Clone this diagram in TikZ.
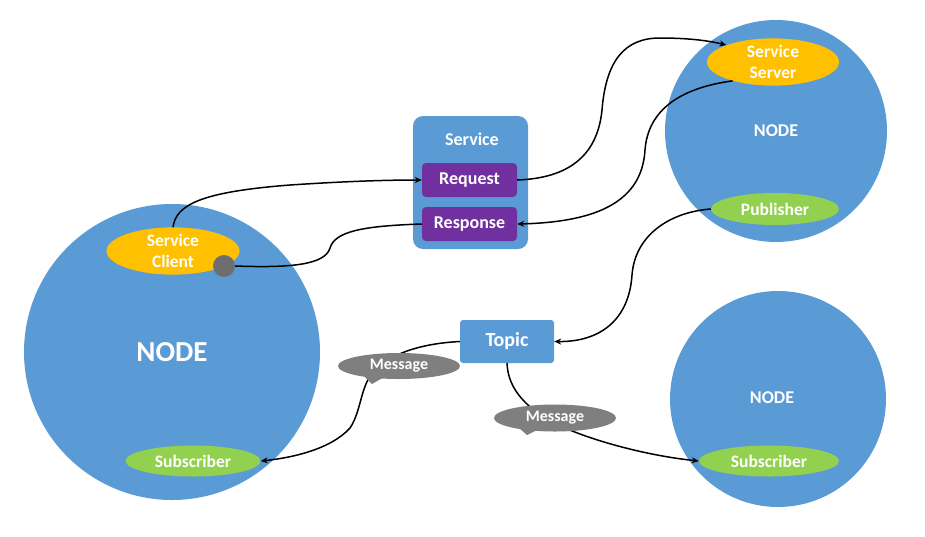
\documentclass[tikz,border=0pt]{standalone}
\usepackage{fontspec}
\setmainfont{Carlito}
\usetikzlibrary{shapes.geometric,arrows.meta}
\definecolor{nodeblue}{HTML}{5B9BD5}
\definecolor{reqpurple}{HTML}{7030A0}
\definecolor{srvorange}{HTML}{FFC000}
\definecolor{pubgreen}{HTML}{92D050}
\definecolor{msggrey}{HTML}{7F7F7F}
\definecolor{dotgrey}{HTML}{6E6E6E}
\begin{document}
\begin{tikzpicture}[x=1pt,y=-1pt,
  rosnode/.style={circle, fill=nodeblue, inner sep=0pt, text=white, font=\bfseries\fontsize{18}{21}\selectfont},
  pill/.style={ellipse, inner sep=0pt, align=center, text=white, font=\bfseries\fontsize{17.5}{21}\selectfont},
  msgbox/.style={rectangle, rounded corners=4pt, fill=reqpurple, minimum width=95pt, minimum height=34pt, inner sep=0pt, text=white, font=\bfseries\fontsize{18}{21}\selectfont},
  link/.style={draw=black, line width=1.5pt, -{Stealth[length=7pt,width=6pt]}},
  plainlink/.style={draw=black, line width=1.5pt},
  msgcall/.style={ellipse, fill=msggrey, minimum width=122pt, minimum height=26pt, inner sep=0pt, text=white, font=\bfseries\fontsize{16}{19}\selectfont}
]
\useasboundingbox (0,0) rectangle (925,536);

% ROS nodes
\node[rosnode, minimum size=296pt, font=\bfseries\fontsize{29}{34}\selectfont] (nodeL) at (172,352) {NODE};
\node[rosnode, minimum size=222pt] (nodeTR) at (776,131) {NODE};
\node[rosnode, minimum size=216pt] (nodeBR) at (778,399) {};
\node[text=white, font=\bfseries\fontsize{18}{21}\selectfont] (nodeBRlbl) at (772,398) {NODE};

% Service box
\node[rectangle, rounded corners=10pt, fill=nodeblue, minimum width=115pt, minimum height=133pt, inner sep=0pt] (service) at (470.5,182.5) {};
\node[text=white, font=\bfseries\fontsize{18}{21}\selectfont] (servicelbl) at (472,139) {Service};
\node[msgbox] (req) at (469.5,180) {Request};
\node[msgbox] (resp) at (469.5,224) {Response};

% Topic
\node[rectangle, rounded corners=3pt, fill=nodeblue, minimum width=94pt, minimum height=43pt, inner sep=0pt, text=white, font=\bfseries\fontsize{20}{24}\selectfont] (topic) at (507,341.5) {Topic};

% Ellipses in nodes
\node[pill, fill=srvorange, minimum width=133pt, minimum height=45pt] (cli) at (173,251) {Service\\[0pt]Client};
\node[pill, fill=srvorange, minimum width=132pt, minimum height=46pt] (srv) at (773,62) {Service\\[0pt]Server};
\node[pill, fill=pubgreen, minimum width=128pt, minimum height=32pt] (pub) at (775,209) {Publisher};
\node[pill, fill=pubgreen, minimum width=135pt, minimum height=31pt] (sub1) at (193,461) {Subscriber};
\node[pill, fill=pubgreen, minimum width=140pt, minimum height=31pt] (sub2) at (769,461) {Subscriber};

% Grey dot
\node[circle, fill=dotgrey, minimum size=22pt, inner sep=0pt] (dot) at (224,266) {};

% Connectors
\draw[link] (cli.north) .. controls (176,205) and (200,192) .. (290,185)
  .. controls (350,181) and (390,180) .. (req.west);
\draw[link] (req.east) .. controls (575,178) and (598,150) .. (602,110)
  .. controls (606,60) and (625,38) .. (660,38)
  .. controls (690,38) and (710,41) .. (srv.160);
\draw[link] (srv.205) .. controls (680,88) and (648,110) .. (645,150)
  .. controls (642,200) and (600,222) .. (resp.east);
\draw[plainlink] (dot.east) .. controls (290,268) and (325,265) .. (330,248)
  .. controls (335,232) and (360,226) .. (resp.west);
\draw[link] (pub.west) .. controls (670,212) and (635,235) .. (632,275)
  .. controls (629,320) and (600,342) .. (topic.east);
\draw[link] (topic.west) .. controls (430,343) and (395,350) .. (375,370)
  .. controls (360,385) and (362,410) .. (350,428)
  .. controls (330,450) and (290,458) .. (sub1.east);
\draw[link] (topic.south) .. controls (508,385) and (520,400) .. (540,415)
  .. controls (570,435) and (640,455) .. (sub2.west);

% Message callouts
\fill[msggrey] (364,376) -- (386,376) -- (372,384) -- cycle;
\node[msgcall] (msg1) at (399,366) {Message};
\fill[msggrey] (519,428) -- (541,428) -- (527,435) -- cycle;
\node[msgcall, minimum height=27pt] (msg2) at (555,418) {Message};
\end{tikzpicture}
\end{document}
